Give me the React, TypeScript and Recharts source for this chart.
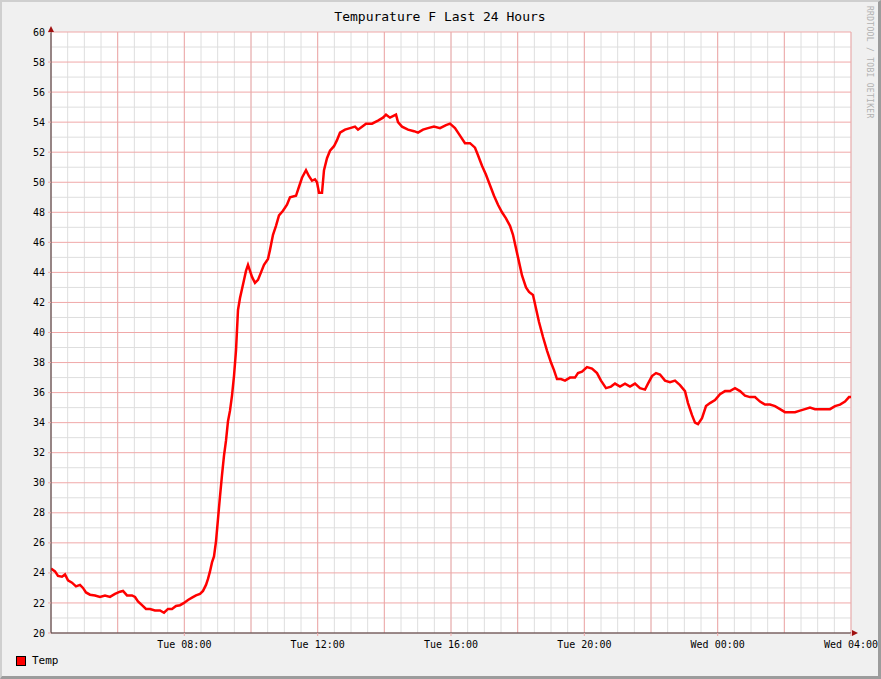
import { LineChart, Line, XAxis, YAxis, ReferenceLine, ReferenceArea, ReferenceDot, Legend } from 'recharts'

// hours since Tue 04:00
const hours = [
  0, 0.12, 0.21, 0.33, 0.42, 0.51, 0.63, 0.75, 0.87, 0.96, 1.05, 1.17, 1.32, 1.47, 1.62, 1.77, 1.92, 2.07, 2.16, 2.28,
  2.43, 2.52, 2.61, 2.73, 2.85, 2.97, 3.12, 3.27, 3.39, 3.51, 3.63, 3.75, 3.87, 3.99, 4.11, 4.23, 4.35, 4.47, 4.56, 4.65,
  4.71, 4.77, 4.83, 4.89, 4.95, 5.01, 5.07, 5.13, 5.19, 5.25, 5.31, 5.37, 5.43, 5.49, 5.55, 5.61, 5.67, 5.73, 5.79, 5.85,
  5.91, 5.97, 6.03, 6.12, 6.21, 6.3, 6.39, 6.51, 6.57, 6.66, 6.75, 6.84, 6.96, 7.08, 7.17, 7.35, 7.44, 7.53, 7.65, 7.74,
  7.83, 7.92, 7.98, 8.04, 8.13, 8.19, 8.28, 8.37, 8.49, 8.58, 8.67, 8.82, 8.97, 9.12, 9.21, 9.33, 9.45, 9.63, 9.81, 9.96,
  10.05, 10.17, 10.35, 10.41, 10.53, 10.71, 10.89, 11.01, 11.16, 11.31, 11.49, 11.67, 11.85, 11.97, 12.12, 12.27, 12.42, 12.57, 12.72, 12.81,
  12.93, 13.05, 13.17, 13.29, 13.41, 13.53, 13.65, 13.77, 13.86, 13.95, 14.04, 14.13, 14.25, 14.34, 14.46, 14.55, 14.64, 14.76, 14.88, 15.0,
  15.09, 15.18, 15.3, 15.42, 15.57, 15.72, 15.81, 15.93, 16.08, 16.23, 16.38, 16.5, 16.65, 16.8, 16.92, 17.07, 17.22, 17.37, 17.52, 17.67,
  17.82, 17.91, 18.03, 18.15, 18.27, 18.42, 18.57, 18.72, 18.87, 19.02, 19.11, 19.23, 19.32, 19.41, 19.53, 19.65, 19.77, 19.92, 20.07, 20.22,
  20.37, 20.52, 20.67, 20.82, 20.97, 21.12, 21.27, 21.42, 21.57, 21.72, 21.87, 22.02, 22.17, 22.32, 22.47, 22.62, 22.77, 22.92, 23.07, 23.22,
  23.37, 23.52, 23.67, 23.82, 23.94, 24,
]
const temps = [
  24.3, 24.1, 23.8, 23.75, 23.9, 23.5, 23.35, 23.1, 23.2, 23.0, 22.7, 22.55, 22.5, 22.4, 22.5, 22.4, 22.6, 22.75, 22.8, 22.5,
  22.5, 22.4, 22.1, 21.85, 21.6, 21.6, 21.5, 21.5, 21.35, 21.6, 21.6, 21.8, 21.85, 22.0, 22.2, 22.35, 22.5, 22.6, 22.8, 23.2,
  23.6, 24.1, 24.7, 25.1, 26.1, 27.6, 29.1, 30.5, 31.8, 32.8, 34.1, 34.8, 35.8, 37.1, 38.8, 41.5, 42.3, 42.9, 43.5, 44.1,
  44.5, 44.1, 43.7, 43.3, 43.5, 44.0, 44.5, 44.9, 45.5, 46.5, 47.1, 47.8, 48.1, 48.5, 49.0, 49.1, 49.7, 50.3, 50.8, 50.4,
  50.1, 50.2, 50.0, 49.3, 49.3, 50.8, 51.6, 52.1, 52.4, 52.8, 53.3, 53.5, 53.6, 53.7, 53.5, 53.7, 53.9, 53.9, 54.1, 54.3,
  54.5, 54.3, 54.5, 54.0, 53.7, 53.5, 53.4, 53.3, 53.5, 53.6, 53.7, 53.6, 53.8, 53.9, 53.6, 53.1, 52.6, 52.6, 52.3, 51.8,
  51.1, 50.5, 49.8, 49.1, 48.5, 48.0, 47.6, 47.1, 46.5, 45.6, 44.7, 43.8, 43.0, 42.7, 42.5, 41.6, 40.7, 39.7, 38.8, 38.0,
  37.5, 36.9, 36.9, 36.8, 37.0, 37.0, 37.3, 37.4, 37.7, 37.6, 37.3, 36.8, 36.3, 36.4, 36.6, 36.4, 36.6, 36.4, 36.6, 36.3,
  36.2, 36.6, 37.1, 37.3, 37.2, 36.8, 36.7, 36.8, 36.5, 36.1, 35.3, 34.5, 34.0, 33.9, 34.3, 35.1, 35.3, 35.5, 35.9, 36.1,
  36.1, 36.3, 36.1, 35.8, 35.7, 35.7, 35.4, 35.2, 35.2, 35.1, 34.9, 34.7, 34.7, 34.7, 34.8, 34.9, 35.0, 34.9, 34.9, 34.9,
  34.9, 35.1, 35.2, 35.4, 35.7, 35.7,
]

const xTicks = [4, 8, 12, 16, 20, 24]
const xTickLabels = ['Tue 08:00', 'Tue 12:00', 'Tue 16:00', 'Tue 20:00', 'Wed 00:00', 'Wed 04:00']
const yTicks = [20, 22, 24, 26, 28, 30, 32, 34, 36, 38, 40, 42, 44, 46, 48, 50, 52, 54, 56, 58, 60]
const xMinor = Array.from({ length: 49 }, (_, i) => i * 0.5)
const xMajor = [0, 2, 4, 6, 8, 10, 12, 14, 16, 18, 20, 22, 24]
const yMinor = Array.from({ length: 41 }, (_, i) => 20 + i)

const data = hours.map((h, i) => ({ h, temp: temps[i] }))

const FONT = '"DejaVu Sans Mono", monospace'
const MINOR = '#dedede'
const MAJOR = '#f0a8a8'

const upArrow = (p: any) => (
  <path d={`M${p.cx - 3},${p.cy} L${p.cx + 3},${p.cy} L${p.cx},${p.cy - 6} Z`} fill="#a01010" />
)
const rightArrow = (p: any) => (
  <path d={`M${p.cx + 1},${p.cy - 3} L${p.cx + 1},${p.cy + 3} L${p.cx + 7},${p.cy} Z`} fill="#a01010" />
)

const legendContent = () => (
  <div style={{ display: 'flex', alignItems: 'center', fontFamily: FONT, fontSize: 11, color: '#000' }}>
    <span style={{ width: 8, height: 8, background: '#ff0000', border: '1px solid #000', marginRight: 6 }} />
    Temp
  </div>
)

export default function App() {
  return (
    <div style={{ position: 'absolute', top: 0, left: 0, width: 881, height: 679, background: '#f0f0f0', boxSizing: 'border-box',
      borderTop: '2px solid #cfcfcf', borderLeft: '2px solid #cfcfcf', borderRight: '3px solid #9c9c9c', borderBottom: '3px solid #9c9c9c' }}>
      <div style={{ position: 'absolute', top: 7, left: 0, width: 876, textAlign: 'center', fontFamily: FONT, fontSize: 13, color: '#000' }}>
        Tempurature F Last 24 Hours
      </div>
      <div style={{ position: 'absolute', top: 4, left: 863, writingMode: 'vertical-rl', fontFamily: FONT, fontSize: 8, color: '#b0b0b0', letterSpacing: 0.3 }}>
        RRDTOOL / TOBI OETIKER
      </div>
      <div style={{ position: 'absolute', top: -2, left: -2 }}>
        <LineChart width={881} height={679} data={data} margin={{ top: 32, right: 30, left: 11, bottom: 13 }}>
          <ReferenceArea x1={0} x2={24} y1={20} y2={60} fill="#ffffff" fillOpacity={1} stroke="none" ifOverflow="visible" />
          {xMinor.map((v) => <ReferenceLine key={'xm' + v} x={v} stroke={MINOR} strokeWidth={1} />)}
          {yMinor.filter((v) => v % 2 !== 0).map((v) => <ReferenceLine key={'ym' + v} y={v} stroke={MINOR} strokeWidth={1} />)}
          {yTicks.map((v) => <ReferenceLine key={'yM' + v} y={v} stroke={MAJOR} strokeWidth={1} />)}
          {xMajor.map((v) => <ReferenceLine key={'xM' + v} x={v} stroke={MAJOR} strokeWidth={1} />)}
          <XAxis dataKey="h" type="number" domain={[0, 24]} ticks={xTicks} tickFormatter={(v: number) => xTickLabels[xTicks.indexOf(v)]}
            height={20} tickSize={3} tickMargin={5} stroke="#404040" tickLine={{ stroke: '#f0a8a8' }}
            tick={{ fill: '#000', fontSize: 10, fontFamily: FONT }} interval={0} allowDataOverflow />
          <YAxis type="number" domain={[20, 60]} ticks={yTicks} width={40} tickSize={3} tickMargin={3} stroke="#404040"
            tickLine={{ stroke: '#f0a8a8' }} tick={{ fill: '#000', fontSize: 10, fontFamily: FONT }} interval={0} allowDataOverflow />
          <Line type="linear" dataKey="temp" stroke="#ff0000" strokeWidth={2.5} dot={false} isAnimationActive={false} />
          <ReferenceDot x={0} y={60} r={0} shape={upArrow} ifOverflow="visible" />
          <ReferenceDot x={24} y={20} r={0} shape={rightArrow} ifOverflow="visible" />
          <Legend verticalAlign="bottom" align="left" content={legendContent}
            wrapperStyle={{ left: 16, bottom: 12, width: 100 }} />
        </LineChart>
      </div>
    </div>
  )
}
